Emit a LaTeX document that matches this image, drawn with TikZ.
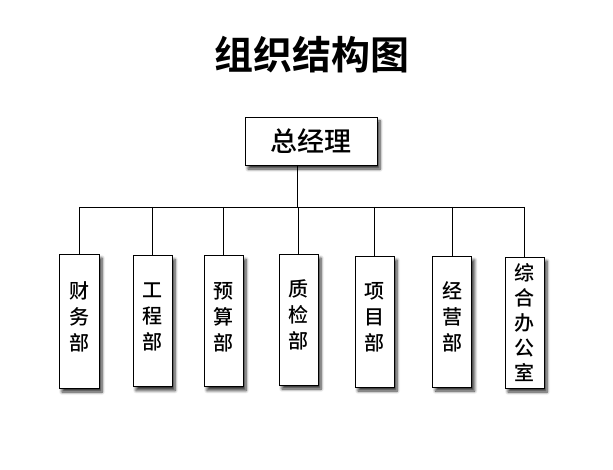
\documentclass[tikz,border=0pt]{standalone}
\usepackage{fontspec}
\newfontfamily\cjk{Noto Sans CJK SC Medium}
\newfontfamily\cjkbold{Noto Sans CJK SC Bold}
\usetikzlibrary{shadows.blur}
\begin{document}
\begin{tikzpicture}[x=1pt,y=-1pt,
  box/.style={draw=black, line width=0.8pt, fill=white, inner sep=0pt,
    blur shadow={shadow xshift=3pt, shadow yshift=-4pt, shadow blur steps=6, shadow opacity=80, shadow blur radius=3pt}},
  dept/.style={box, minimum width=39pt, minimum height=131pt, align=center,
    font=\cjk\fontsize{20}{26}\selectfont},
  link/.style={draw=black, line width=0.7pt}]
\useasboundingbox (0,0) rectangle (613,470);
\node (title) at (312,55) {\cjkbold\fontsize{39}{40}\selectfont 组织结构图};
\node[box, minimum width=132pt, minimum height=48pt, font=\cjk\fontsize{27}{30}\selectfont] (mgr) at (311,141) {总经理};
\coordinate (bus) at (297,207);
\node[dept, minimum width=40pt, minimum height=134pt] (d1) at (79,321) {财\\务\\部\\[-16pt]};
\node[dept] (d2) at (152.5,321) {工\\程\\部\\[-16pt]};
\node[dept] (d3) at (223.5,321) {预\\算\\部\\[-16pt]};
\node[dept] (d4) at (298.5,319.5) {质\\检\\部\\[-16pt]};
\node[dept] (d5) at (374.5,321.5) {项\\目\\部\\[-16pt]};
\node[dept] (d6) at (452,321.5) {经\\营\\部\\[-16pt]};
\node[dept, font=\cjk\fontsize{20}{25}\selectfont] (d7) at (524.5,322.5) {综\\合\\办\\公\\室};
\draw[link] (mgr.south -| bus) -- (bus);
\draw[link] (d1.north |- bus) -- (d7.north |- bus);
\foreach \d in {d1,d2,d3,d4,d5,d6,d7}
  \draw[link] (\d.north |- bus) -- (\d.north);
\end{tikzpicture}
\end{document}
